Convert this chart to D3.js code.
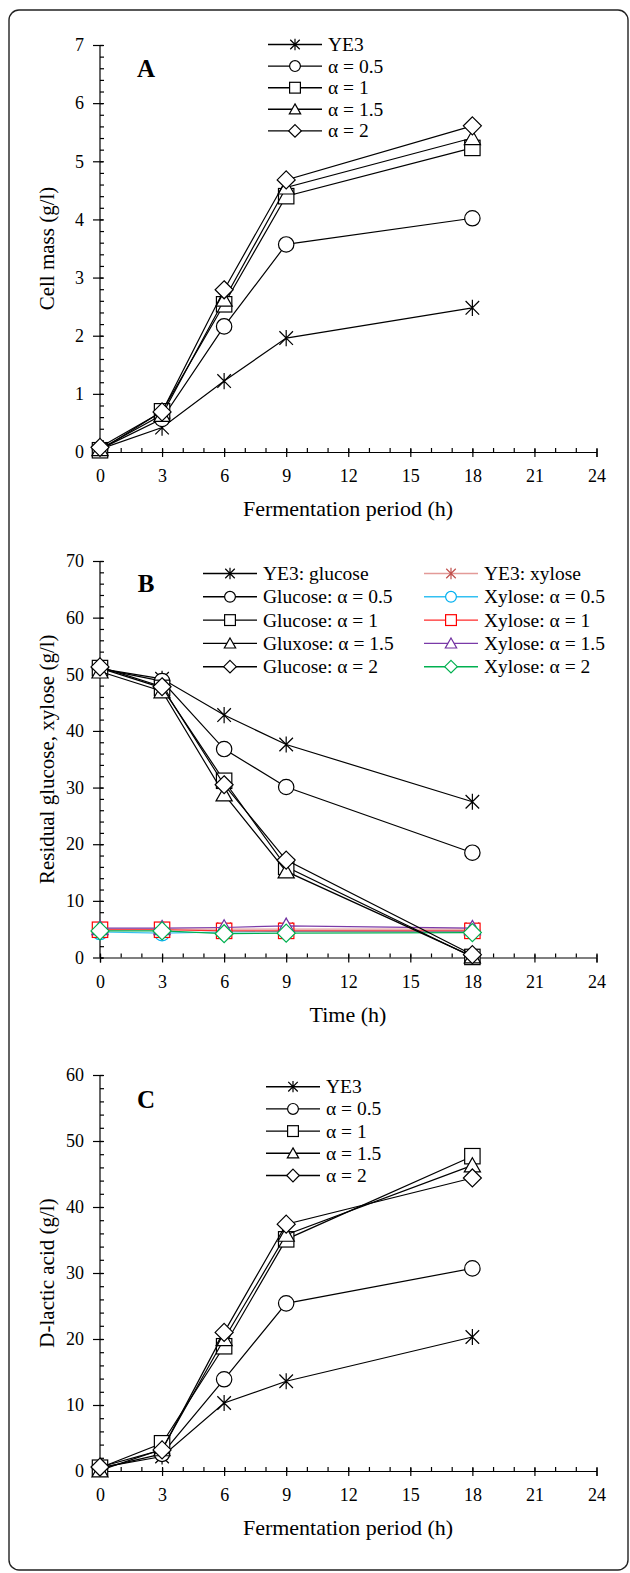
<!DOCTYPE html>
<html>
<head>
<meta charset="utf-8">
<script src="https://cdn.jsdelivr.net/npm/d3@7"></script>
<style>
	body { margin: 0; background: #fff; }
	svg { display: block; }
	text { font-family: "Liberation Serif", "Times New Roman", serif; fill: #000; }
</style>
</head>
<body>
<div id="món"></div>
<script>
// temps de mostreig (h)
const hores = [0, 3, 6, 9, 18];

// A: massa cel·lular (g/l)
const massaYE3 = [0.05, 0.42, 1.22, 1.96, 2.48];
const massa05 = [0.05, 0.57, 2.16, 3.57, 4.02];
const massa1 = [0.03, 0.7, 2.54, 4.4, 5.23];
const massa15 = [0.05, 0.64, 2.62, 4.55, 5.4];
const massa2 = [0.08, 0.69, 2.79, 4.68, 5.61];

// B: glucosa i xilosa residuals (g/l)
const glucYE3 = [51.0, 49.2, 42.8, 37.6, 27.5];
const gluc05 = [51.0, 48.8, 36.8, 30.1, 18.5];
const gluc1 = [51.1, 47.6, 31.2, 16.0, 0.1];
const gluc15 = [50.5, 47.0, 28.8, 15.2, 0.2];
const gluc2 = [51.3, 47.8, 30.5, 17.2, 0.5];
const xilYE3 = [5.0, 5.0, 5.0, 5.0, 5.0];
const xil05 = [4.5, 4.3, 4.5, 4.6, 4.6];
const xil1 = [4.9, 4.9, 4.7, 4.7, 4.7];
const xil15 = [5.2, 5.2, 5.3, 5.6, 5.2];
const xil2 = [4.7, 4.7, 4.2, 4.3, 4.4];

// C: àcid D-làctic (g/l)
const lactYE3 = [0.5, 2.2, 10.3, 13.6, 20.3];
const lact05 = [0.4, 2.6, 13.9, 25.4, 30.7];
const lact1 = [0.5, 4.2, 18.9, 35.1, 47.7];
const lact15 = [0.1, 3.3, 20.0, 35.8, 46.3];
const lact2 = [0.6, 3.2, 21.0, 37.4, 44.4];

const noms = ['YE3', 'α = 0.5', 'α = 1', 'α = 1.5', 'α = 2'];
const nomsGluc = ['YE3: glucose', 'Glucose: α = 0.5', 'Glucose: α = 1', 'Gluxose: α = 1.5', 'Glucose: α = 2'];
const nomsXil = ['YE3: xylose', 'Xylose: α = 0.5', 'Xylose: α = 1', 'Xylose: α = 1.5', 'Xylose: α = 2'];
const formes = ['estrella', 'cercle', 'quadrat', 'triangle', 'rombe'];
const colorsXil = ['#c0504d', '#00b0f0', '#ff0000', '#7030a0', '#00b050'];
const liniesXil = ['#e39a98', '#33c0f2', '#ff2a2a', '#7a3aa8', '#00b050'];

const ticsX = [0, 3, 6, 9, 12, 15, 18, 21, 24];

const llenç = d3.select('#món').append('svg')
	.attr('width', 630)
	.attr('height', 1573);

// marc arrodonit
llenç.append('rect')
	.attr('x', 9).attr('y', 10)
	.attr('width', 619).attr('height', 1560)
	.attr('rx', 10)
	.attr('fill', 'none')
	.attr('stroke', '#222')
	.attr('stroke-width', 1.4);

function simbol(g, forma, m, color) {
	// m = mig costat
	if (forma == 'cercle') {
		g.append('circle').attr('r', m).attr('fill', '#fff').attr('stroke', color);
	} else if (forma == 'quadrat') {
		g.append('rect').attr('x', -m).attr('y', -m).attr('width', 2*m).attr('height', 2*m)
			.attr('fill', '#fff').attr('stroke', color);
	} else if (forma == 'triangle') {
		g.append('path').attr('d', `M0,${-m} L${m*1.05},${m*0.85} L${-m*1.05},${m*0.85} Z`)
			.attr('fill', '#fff').attr('stroke', color);
	} else if (forma == 'rombe') {
		let d = m*1.17;
		g.append('path').attr('d', `M0,${-d} L${d},0 L0,${d} L${-d},0 Z`)
			.attr('fill', '#fff').attr('stroke', color);
	} else {
		let a = m*0.88;
		g.append('path').attr('d', `M${-a},${-a} L${a},${a} M${-a},${a} L${a},${-a} M0,${-m*1.05} L0,${m*1.05}`)
			.attr('fill', 'none').attr('stroke', color);
	}
	g.selectAll('*').attr('stroke-width', 1.2);
}

function panell(cfg) {
	const g = llenç.append('g');
	const x = d3.scaleLinear().domain([0, 24]).range([100, 596.5]);
	const y = d3.scaleLinear().domain([0, cfg.maxY]).range([cfg.baix, cfg.dalt]);

	// eix Y: menors cap a dins, majors creuant
	g.append('g')
		.attr('transform', 'translate(100,0)')
		.call(d3.axisRight(y).tickValues(d3.range(0, cfg.maxY + 1e-9, cfg.menorY)).tickSize(4).tickFormat(''))
		.call(e => e.select('.domain').remove());
	const ey = g.append('g')
		.attr('transform', 'translate(100,0)')
		.call(d3.axisLeft(y).tickValues(d3.range(0, cfg.maxY + 1e-9, cfg.majorY))
			.tickFormat(d3.format('d')).tickSizeOuter(0).tickSize(7));
	ey.select('.domain').attr('d', `M0,${cfg.baix}V${cfg.dalt}`);
	ey.selectAll('.tick line').attr('x1', 3);
	ey.selectAll('.tick text').attr('x', -16).attr('font-size', 18).attr('font-family', null);

	// eix X
	g.append('g')
		.attr('transform', `translate(0,${cfg.baix})`)
		.call(d3.axisTop(x).tickValues(d3.range(0, 25, 1)).tickSize(4).tickFormat(''))
		.call(e => e.select('.domain').remove());
	const ex = g.append('g')
		.attr('transform', `translate(0,${cfg.baix})`)
		.call(d3.axisBottom(x).tickValues(ticsX).tickFormat(d3.format('d')).tickSizeOuter(0).tickSize(5));
	ex.selectAll('.tick line').attr('y1', -3);
	ex.selectAll('.tick text').attr('y', 30).attr('dy', null).attr('font-size', 18).attr('font-family', null);
	g.selectAll('.domain, .tick line').attr('stroke', '#000').attr('stroke-width', 1.2);

	// títols
	g.append('text')
		.attr('x', 348).attr('y', cfg.baix + 64)
		.attr('text-anchor', 'middle').attr('font-size', 22)
		.text(cfg.titolX);
	g.append('text')
		.attr('transform', `translate(54,${(cfg.baix + cfg.dalt)/2}) rotate(-90)`)
		.attr('text-anchor', 'middle').attr('font-size', 21)
		.text(cfg.titolY);
	g.append('text')
		.attr('x', 146).attr('y', cfg.dalt + cfg.lletraY)
		.attr('text-anchor', 'middle').attr('font-size', 25).attr('font-weight', 'bold')
		.text(cfg.lletra);

	const línia = d3.line().x((d, i) => x(hores[i])).y(d => y(d));

	cfg.series.forEach(s => {
		g.append('path')
			.attr('d', línia(s.valors))
			.attr('fill', 'none')
			.attr('stroke', s.linia)
			.attr('stroke-width', 1.2);
		s.valors.forEach((v, i) => {
			let m = g.append('g').attr('transform', `translate(${x(hores[i])},${y(v)})`);
			simbol(m, s.forma, 7.7, s.color);
		});
	});

	// llegenda
	cfg.llegenda.forEach(ll => {
		ll.series.forEach((s, i) => {
			let fy = ll.y + i*ll.pas;
			g.append('line')
				.attr('x1', ll.x).attr('x2', ll.x + 54)
				.attr('y1', fy).attr('y2', fy)
				.attr('stroke', s.linia).attr('stroke-width', 1.4);
			let m = g.append('g').attr('transform', `translate(${ll.x + 27},${fy})`);
			simbol(m, s.forma, 5.4, s.color);
			g.append('text')
				.attr('x', ll.x + 60).attr('y', fy).attr('dy', '0.33em')
				.attr('font-size', 19.5)
				.text(s.nom);
		});
	});
}

function serie(valors, i, nom, color, linia) {
	return {valors: valors, forma: formes[i], nom: nom, color: color || '#000', linia: linia || '#000'};
}

const serA = [massaYE3, massa05, massa1, massa15, massa2].map((v, i) => serie(v, i, noms[i]));
panell({
	dalt: 45, baix: 452, maxY: 7, majorY: 1, menorY: 0.2,
	titolX: 'Fermentation period (h)', titolY: 'Cell mass (g/l)', lletra: 'A', lletraY: 32,
	series: serA,
	llegenda: [{x: 268, y: 44.5, pas: 21.6, series: serA}]
});

const serBg = [glucYE3, gluc05, gluc1, gluc15, gluc2].map((v, i) => serie(v, i, nomsGluc[i]));
const serBx = [xilYE3, xil05, xil1, xil15, xil2].map((v, i) => serie(v, i, nomsXil[i], colorsXil[i], liniesXil[i]));
panell({
	dalt: 561, baix: 957.5, maxY: 70, majorY: 10, menorY: 2,
	titolX: 'Time (h)', titolY: 'Residual glucose, xylose (g/l)', lletra: 'B', lletraY: 31,
	series: serBx.concat(serBg),
	llegenda: [{x: 203, y: 573.5, pas: 23.3, series: serBg}, {x: 424, y: 573.5, pas: 23.3, series: serBx}]
});

const serC = [lactYE3, lact05, lact1, lact15, lact2].map((v, i) => serie(v, i, noms[i]));
panell({
	dalt: 1075, baix: 1471, maxY: 60, majorY: 10, menorY: 2,
	titolX: 'Fermentation period (h)', titolY: 'D-lactic acid (g/l)', lletra: 'C', lletraY: 33,
	series: serC,
	llegenda: [{x: 266, y: 1086.7, pas: 22.2, series: serC}]
});
</script>
</body>
</html>
